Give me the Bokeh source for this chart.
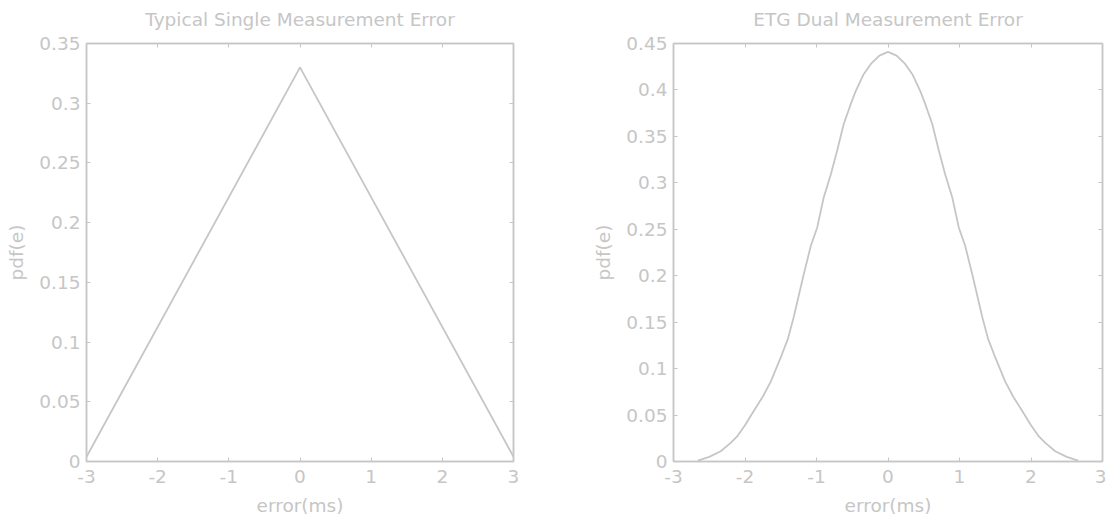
from bokeh.plotting import figure
from bokeh.layouts import row
from bokeh.models import LinearAxis, FixedTicker, CustomJSTickFormatter, Range1d
from bokeh.embed import file_html
from bokeh.resources import INLINE

# ---- data ----
single_title = "Typical Single Measurement Error"
dual_title = "ETG Dual Measurement Error"
x_label = "error(ms)"
y_label = "pdf(e)"

single_x = [-3.0, 0.0, 3.0]
single_y = [0.004, 0.33, 0.004]

dual_x = [-2.66, -2.5, -2.34, -2.2, -2.11, -2.0, -1.88, -1.75, -1.64, -1.5, -1.4, -1.32,
          -1.18, -1.08, -0.99, -0.9, -0.8, -0.71, -0.62, -0.52, -0.45, -0.34, -0.24, -0.12,
          0.0,
          0.12, 0.24, 0.34, 0.45, 0.52, 0.62, 0.71, 0.8, 0.9, 0.99, 1.08, 1.18,
          1.32, 1.4, 1.5, 1.64, 1.75, 1.88, 2.0, 2.11, 2.2, 2.34, 2.5, 2.66]
dual_y = [0.001, 0.005, 0.011, 0.02, 0.027, 0.039, 0.054, 0.07, 0.086, 0.112, 0.132, 0.155,
          0.201, 0.232, 0.252, 0.284, 0.309, 0.335, 0.363, 0.385, 0.399, 0.417, 0.428, 0.437,
          0.441,
          0.437, 0.428, 0.417, 0.399, 0.385, 0.363, 0.335, 0.309, 0.284, 0.252, 0.232, 0.201,
          0.155, 0.132, 0.112, 0.086, 0.07, 0.054, 0.039, 0.027, 0.02, 0.011, 0.005, 0.001]

x_ticks = [-3, -2, -1, 0, 1, 2, 3]
single_y_ticks = [0, 0.05, 0.1, 0.15, 0.2, 0.25, 0.3, 0.35]
dual_y_ticks = [0, 0.05, 0.1, 0.15, 0.2, 0.25, 0.3, 0.35, 0.4, 0.45]

GRAY = "#c6c6c6"
FONT = "DejaVu Sans"
FS = "18.5px"


def style_axis(ax, ticks, show_labels=True):
    ax.ticker = FixedTicker(ticks=ticks)
    if show_labels:
        ax.formatter = CustomJSTickFormatter(
            code="return String(Math.round(tick*100)/100);")
    else:
        ax.formatter = CustomJSTickFormatter(code="return '';")
    ax.axis_line_color = GRAY
    ax.axis_line_width = 1.5
    ax.major_tick_line_color = GRAY
    ax.major_tick_line_width = 1
    ax.major_tick_in = 4
    ax.major_tick_out = 0
    ax.minor_tick_line_color = None
    ax.major_label_text_color = GRAY
    ax.major_label_text_font = FONT
    ax.major_label_text_font_size = FS
    ax.major_label_standoff = 6 if show_labels else 0
    ax.axis_label_text_color = GRAY
    ax.axis_label_text_font = FONT
    ax.axis_label_text_font_size = FS
    ax.axis_label_text_font_style = "normal"


def make(title, xs, ys, yticks, ymax, bl, br, fw):
    p = figure(output_backend="svg", toolbar_location=None,
               frame_width=fw, frame_height=418,
               min_border_left=bl, min_border_right=br,
               min_border_top=43, min_border_bottom=48,
               x_range=Range1d(-3, 3), y_range=Range1d(0, ymax))
    p.grid.visible = False
    p.outline_line_color = GRAY
    p.outline_line_width = 1.5
    p.background_fill_color = "white"
    p.border_fill_color = "white"
    style_axis(p.xaxis[0], x_ticks)
    style_axis(p.yaxis[0], yticks)
    p.xaxis[0].axis_label = x_label
    p.yaxis[0].axis_label = y_label
    p.xaxis[0].major_label_standoff = 8
    p.xaxis[0].axis_label_standoff = 9
    p.yaxis[0].axis_label_standoff = 9
    top = LinearAxis(axis_label=title)
    style_axis(top, x_ticks, show_labels=False)
    top.axis_label_standoff = 14
    right = LinearAxis()
    style_axis(right, yticks, show_labels=False)
    p.add_layout(top, "above")
    p.add_layout(right, "right")
    p.line(xs, ys, line_color=GRAY, line_width=1.8)
    return p


p1 = make(single_title, single_x, single_y, single_y_ticks, 0.35, 86, 76, 427)
p2 = make(dual_title, dual_x, dual_y, dual_y_ticks, 0.45, 84, 4, 429)

layout = row(p1, p2)
open("out.html", "w").write(file_html(layout, INLINE))
